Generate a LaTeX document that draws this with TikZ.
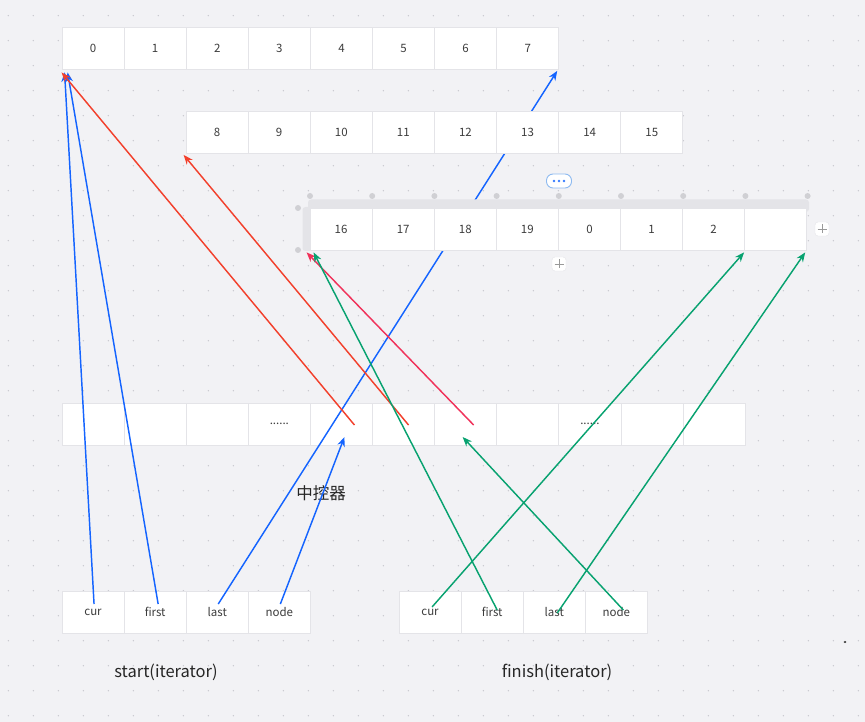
\documentclass[tikz,border=0pt]{standalone}
\usepackage{fontspec}
\setmainfont{Noto Sans CJK SC}
\usetikzlibrary{arrows.meta,calc}
\pgfdeclarelayer{bg}
\pgfdeclarelayer{fg}
\pgfsetlayers{bg,main,fg}
\definecolor{bgc}{RGB}{242,242,245}
\definecolor{dotc}{RGB}{200,200,206}
\definecolor{cellline}{RGB}{228,228,232}
\definecolor{txt}{RGB}{60,60,60}
\definecolor{lblue}{RGB}{20,100,255}
\definecolor{lred}{RGB}{242,64,44}
\definecolor{lpink}{RGB}{240,50,90}
\definecolor{lgreen}{RGB}{8,162,112}
\definecolor{selc}{RGB}{228,228,232}
\definecolor{handlec}{RGB}{208,208,212}
\definecolor{pillc}{RGB}{140,185,240}
\tikzset{
  cell/.style={draw=cellline, line width=0.8pt, fill=white, minimum width=62.1pt, minimum height=42pt, inner sep=0pt, font=\fontsize{11.5}{12}\selectfont, text=txt},
  conn/.style={line width=1.45pt, -{Stealth[length=9.5pt,width=7.5pt]}},
  bl/.style={conn, draw=lblue, fill=lblue},
  rd/.style={conn, draw=lred, fill=lred},
  pk/.style={conn, draw=lpink, fill=lpink},
  gr/.style={conn, draw=lgreen, fill=lgreen},
  lbl/.style={font=\fontsize{16.5}{18}\selectfont, text=black!85, inner sep=0pt},
  handle/.style={fill=handlec, draw=none},
  plusbtn/.style={draw=cellline, fill=white, rounded corners=3pt, minimum width=14pt, minimum height=14pt, inner sep=0pt}
}
\begin{document}
\begin{tikzpicture}[x=1pt,y=-1pt]
\useasboundingbox (0,0) rectangle (865,722);
\begin{pgfonlayer}{bg}
\fill[bgc] (0,0) rectangle (865,722);
\foreach \i in {0,...,34}{
  \foreach \j in {0,...,28}{
    \fill[dotc] (8.3+25*\i,15.7+25*\j) circle (0.75);
  }
}
% middle row
\foreach \k/\t in {0/,1/,2/,3/{......},4/,5/,6/,7/,8/{......},9/,10/}{
  \node[cell] (m\k) at (62+31.05+62.1*\k,424) {\t};
}
% iterators
\foreach \k/\t in {0/cur,1/first,2/last,3/node}{
  \node[cell] (s\k) at (62+31.05+62.1*\k,612) {\t};
  \node[cell] (f\k) at (399+31.05+62.1*\k,612) {\t};
}
\node[lbl] (ctl) at (321,493) {中控器};
\node[lbl] (startlbl) at (166,672) {start(iterator)};
\node[lbl] (finishlbl) at (557,672) {finish(iterator)};
\fill[black!80] (845,642) ellipse (1.4 and 1.1);
\end{pgfonlayer}

\begin{pgfonlayer}{fg}
% row 1
\foreach \k in {0,...,7}{
  \node[cell] (a\k) at (62+31.05+62.1*\k,48) {\k};
}
% row 2
\foreach \k/\t in {0/8,1/9,2/10,3/11,4/12,5/13,6/14,7/15}{
  \node[cell] (b\k) at (186+31.05+62.1*\k,132) {\t};
}
% selection frame of row 3
\fill[selc, rounded corners=3pt] (308,199.5) rectangle (809,212);
\fill[selc, rounded corners=3pt] (302.5,207) rectangle (312,251);
\foreach \k in {0,...,8}{
  \fill[handle] (310+62.2*\k,196) circle (3);
}
\fill[handle] (298,208) circle (3);
\fill[handle] (298,250) circle (3);
% row 3
\foreach \k/\t in {0/16,1/17,2/18,3/19,4/0,5/1,6/2,7/}{
  \node[cell] (c\k) at (310+31.05+62.1*\k,229) {\t};
}
% toolbar pill
\node[draw=pillc, fill=white, rounded corners=6.5pt, minimum width=25pt, minimum height=14pt, inner sep=0pt, line width=0.9pt] (pill) at (559,181) {};
\foreach \dx in {-5,0,5}{\fill[lblue!85] ($(pill.center)+(\dx,0)$) circle (1.3);}
\node[plusbtn] (plusr) at (822,229) {};
\node[plusbtn] (plusb) at (559,264) {};
\foreach \p in {plusr,plusb}{
  \draw[black!40, line width=0.8pt] ($(\p.center)+(-4.5,0)$) -- ($(\p.center)+(4.5,0)$);
  \draw[black!40, line width=0.8pt] ($(\p.center)+(0,-4.5)$) -- ($(\p.center)+(0,4.5)$);
}
\end{pgfonlayer}

% connector end points
\coordinate (bcurS) at ($(s0.center)+(1,-8)$);
\coordinate (bfirstS) at ($(s1.center)+(3,-8)$);
\coordinate (blastS) at ($(s2.center)+(1,-8)$);
\coordinate (bnodeS) at ($(s3.center)+(1,-8)$);
\coordinate (bcurE) at ($(a0.south west)+(3,3)$);
\coordinate (bfirstE) at ($(a0.south west)+(6,3)$);
\coordinate (blastE) at ($(a7.south east)+(-2,1.5)$);
\coordinate (bnodeE) at ($(m4.center)+(3,13)$);
\coordinate (r1S) at ($(m4.center)+(13,1)$);
\coordinate (r1E) at ($(a0.south west)+(0,3)$);
\coordinate (r2S) at ($(m5.center)+(5,1)$);
\coordinate (r2E) at ($(b0.south west)+(-2,1.5)$);
\coordinate (pS) at ($(m6.center)+(8,1)$);
\coordinate (pE) at ($(c0.south west)+(-3,2)$);
\coordinate (gcurS) at ($(f0.center)+(2,-5)$);
\coordinate (gcurE) at ($(c6.south east)+(-1,2)$);
\coordinate (gfirstS) at ($(f1.center)+(5,-2)$);
\coordinate (gfirstE) at ($(c0.south west)+(4,2)$);
\coordinate (glastS) at ($(f2.center)+(3,1)$);
\coordinate (glastE) at ($(c7.south east)+(-2,2)$);
\coordinate (gnodeS) at ($(f3.center)+(7,-2)$);
\coordinate (gnodeE) at ($(m6.center)+(-3,13)$);

\draw[bl] (bcurS) -- (bcurE);
\draw[bl] (bfirstS) -- (bfirstE);
\draw[bl] (blastS) -- (blastE);
\draw[bl] (bnodeS) -- (bnodeE);
\draw[rd] (r1S) -- (r1E);
\draw[rd] (r2S) -- (r2E);
\draw[pk] (pS) -- (pE);
\draw[gr] (gcurS) -- (gcurE);
\draw[gr] (gfirstS) -- (gfirstE);
\draw[gr] (glastS) -- (glastE);
\draw[gr] (gnodeS) -- (gnodeE);
\end{tikzpicture}
\end{document}
